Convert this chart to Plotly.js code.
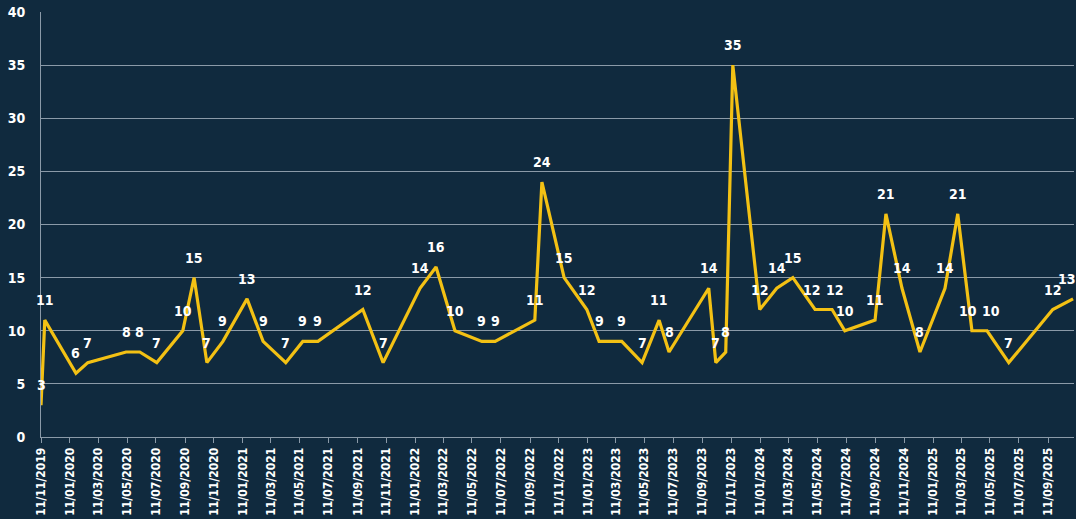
<!DOCTYPE html>
<html>
<head>
<meta charset="utf-8">
<script src="https://cdn.plot.ly/plotly-3.0.1.min.js"></script>
<style>
  html, body { margin: 0; padding: 0; background: #102a3e; }
  #chart { width: 1076px; height: 519px; }
</style>
</head>
<body>
<div id="chart"></div>
<script>
const dates = [
  '2019-11-11','2019-11-19','2020-01-24','2020-02-18','2020-05-09','2020-06-07','2020-07-13',
  '2020-09-06','2020-09-30','2020-10-27','2020-11-30','2021-01-20','2021-02-23','2021-04-12',
  '2021-05-18','2021-06-19','2021-09-22','2021-11-04','2022-01-21','2022-02-24','2022-04-05',
  '2022-06-01','2022-06-29','2022-09-21','2022-10-06','2022-11-22','2023-01-09','2023-02-04',
  '2023-03-24','2023-05-06','2023-06-11','2023-07-02','2023-09-24','2023-10-09','2023-10-30',
  '2023-11-14','2024-01-10','2024-02-15','2024-03-20','2024-05-06','2024-06-11','2024-07-08',
  '2024-09-10','2024-10-03','2024-11-06','2024-12-14','2025-02-05','2025-03-04','2025-04-03',
  '2025-05-05','2025-06-20','2025-09-21','2025-11-03'
];
const counts = [
  3, 11, 6, 7, 8, 8, 7,
  10, 15, 7, 9, 13, 9, 7,
  9, 9, 12, 7, 14, 16, 10,
  9, 9, 11, 24, 15, 12, 9,
  9, 7, 11, 8, 14, 7, 8,
  35, 12, 14, 15, 12, 12, 10,
  11, 21, 14, 8, 14, 21, 10,
  10, 7, 12, 13
];
const yTicks = [0, 5, 10, 15, 20, 25, 30, 35, 40];
const xStart = '2019-11-11';
const xEnd = '2025-11-05';

const fontFam = '"Liberation Sans Narrow", "DejaVu Sans Condensed", "Arial Narrow", sans-serif';

const trace = {
  x: dates,
  y: counts,
  type: 'scatter',
  mode: 'lines',
  line: { color: '#f3c114', width: 3.2 },
  hoverinfo: 'skip',
  cliponaxis: false
};

const lastIdx = dates.length - 1;
// nudge crowded neighbouring labels apart
const nudge = { 39: -3, 40: 3, 48: -4, 49: 4 };
nudge[lastIdx] = -6;
const annotations = dates.map((d, i) => ({
  x: d, y: counts[i], text: String(counts[i]),
  xref: 'x', yref: 'y', showarrow: false,
  yshift: 20,
  xshift: nudge[i] || 0,
  font: { family: fontFam, size: 14, color: '#ffffff', weight: 'bold' }
}));

const layout = {
  width: 1076, height: 519,
  paper_bgcolor: '#102a3e',
  plot_bgcolor: '#102a3e',
  margin: { l: 41, r: 2, t: 12, b: 82 },
  showlegend: false,
  xaxis: {
    type: 'date',
    range: [xStart, xEnd],
    tick0: xStart,
    dtick: 'M2',
    tickformat: '%d/%m/%Y',
    tickangle: -90,
    ticks: 'outside',
    ticklen: 5,
    tickcolor: '#8b9aa8',
    showgrid: false,
    showline: true,
    linecolor: '#8b9aa8',
    linewidth: 1,
    zeroline: false,
    tickfont: { family: fontFam, size: 12, color: '#ffffff', weight: 'bold' }
  },
  yaxis: {
    range: [0, 40],
    tickvals: yTicks,
    ticktext: yTicks.map(String),
    showgrid: true,
    gridcolor: '#8b9aa8',
    gridwidth: 1,
    showline: true,
    linecolor: '#8b9aa8',
    linewidth: 1,
    zeroline: false,
    ticks: '',
    ticklabelstandoff: 12,
    tickfont: { family: fontFam, size: 14, color: '#ffffff', weight: 'bold' }
  },
  annotations: annotations
};

Plotly.newPlot('chart', [trace], layout, { displayModeBar: false, staticPlot: true });
</script>
</body>
</html>
